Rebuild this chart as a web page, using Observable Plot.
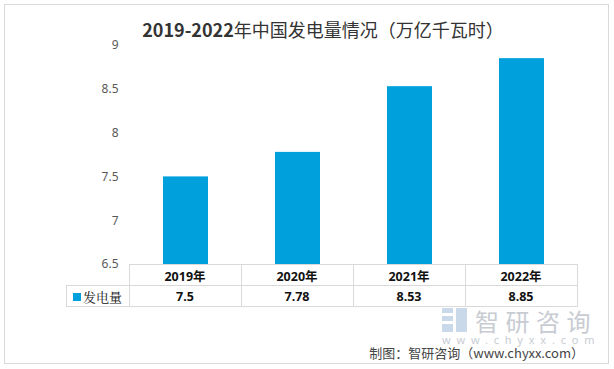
<!DOCTYPE html>
<html><head><meta charset="utf-8">
<script src="https://cdn.jsdelivr.net/npm/d3@7"></script>
<script src="https://cdn.jsdelivr.net/npm/@observablehq/plot@0.6"></script>
<style>
body{margin:0;background:#fff;font-family:"Noto Sans","Noto Sans CJK SC",sans-serif;}
#wrap{position:relative;width:614px;height:369px;overflow:hidden;}
#frame{position:absolute;left:4px;top:4px;width:605px;height:360px;border:1px solid #d9d9d9;box-sizing:border-box;}
#title{position:absolute;left:16px;width:614px;top:17px;text-align:center;font-size:18px;line-height:24px;color:#333;font-family:"Noto Sans CJK SC",sans-serif;}
#title b{font-weight:bold;}
#chart{position:absolute;left:0;top:0;}
table{position:absolute;border-collapse:collapse;font-size:12.5px;color:#111;}
td{border:1px solid #d9d9d9;text-align:center;font-weight:bold;padding:0;height:20px;}
td.blank{border:none;}
td.leg{font-weight:normal;font-family:"Noto Serif CJK SC","Noto Sans CJK SC",serif;font-size:13px;text-align:left;padding-left:6px;}
.sw{display:inline-block;width:8px;height:8px;background:#00a0dc;margin-right:2px;vertical-align:1px;}
#wm1{position:absolute;left:475px;top:309px;font-size:24px;line-height:24px;color:#c8ccd2;letter-spacing:6.5px;font-family:"Noto Sans CJK SC",sans-serif;}
#wm2{position:absolute;left:442px;top:334px;font-size:11px;line-height:11px;color:#c8ccd2;letter-spacing:5.8px;white-space:nowrap;}
#logo{position:absolute;left:442px;top:308px;width:26px;height:24px;}
#cap{position:absolute;right:30px;top:345px;font-size:13px;line-height:16px;color:#444;font-family:"Noto Sans CJK SC",sans-serif;}
</style></head>
<body><div id="wrap"><div id="frame"></div><div id="title"><b>2019-2022</b>年中国发电量情况（万亿千瓦时）</div><div id="chart"></div>
<svg id="logo" viewBox="0 0 26 24"><rect x="0" y="0" width="11" height="5" fill="#c9d9ea"/><rect x="0" y="8" width="11" height="5" fill="#c9d9ea"/><rect x="0" y="16" width="11" height="8" fill="#c9d9ea"/><rect x="14" y="0" width="11" height="24" fill="#c9d9ea"/></svg>
<div id="wm1">智研咨询</div><div id="wm2">www.chyxx.com</div>
<div id="cap">制图：智研咨询（www.chyxx.com）</div>
</div>
<script>
const years = ["2019年","2020年","2021年","2022年"];
const values = [7.5, 7.78, 8.53, 8.85];
const seriesName = "发电量";
const yTicks = [6.5, 7, 7.5, 8, 8.5, 9];
const valueLabels = ["7.5","7.78","8.53","8.85"];

const data = years.map((y,i)=>({year:y, value:values[i]}));
const plot = Plot.plot({
  width:614, height:369,
  marginLeft:129, marginRight:36, marginTop:45, marginBottom:105,
  x:{domain:years, paddingInner:0.6, paddingOuter:0.3, axis:null},
  y:{domain:[yTicks[0], yTicks[yTicks.length-1]], ticks:yTicks, tickFormat:d=>String(d), label:null},
  style:{fontFamily:"'Noto Sans',sans-serif", fontSize:"12px", color:"#595959", background:"transparent"},
  marks:[
    Plot.axisY({ticks:yTicks, tickSize:0, tickPadding:11, tickFormat:d=>String(d), label:null, fill:"#595959"}),
    Plot.barY(data,{x:"year", y1:yTicks[0], y2:"value", fill:"#00a0dc"})
  ]
});
document.getElementById("chart").appendChild(plot);

// data table below the plot, aligned to the x scale
const xs = plot.scale("x");
const tbl = document.createElement("table");
const left = xs.range[0], colW = xs.step;
tbl.style.left = (left - 63) + "px";
tbl.style.top = "264px";
let r1 = `<tr><td class="blank" style="width:62px"></td>` + years.map(y=>`<td style="width:${colW-1}px">${y}</td>`).join("") + `</tr>`;
let r2 = `<tr><td class="leg"><span class="sw"></span>${seriesName}</td>` + valueLabels.map(v=>`<td>${v}</td>`).join("") + `</tr>`;
tbl.innerHTML = r1 + r2;
document.getElementById("wrap").appendChild(tbl);
</script>
</body></html>
